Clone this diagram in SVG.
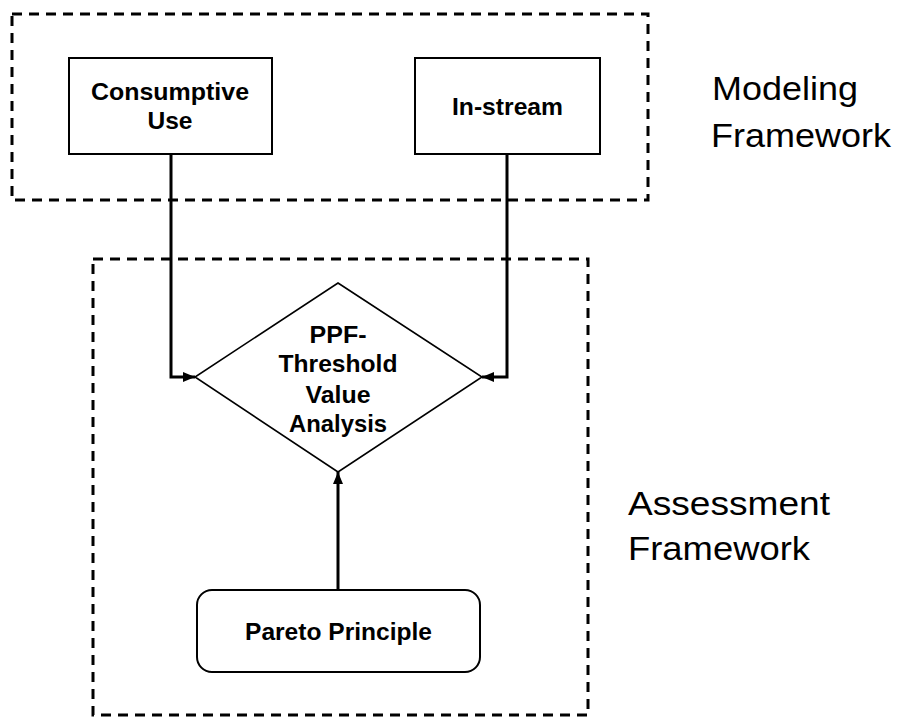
<svg xmlns="http://www.w3.org/2000/svg" width="898" height="720" viewBox="0 0 898 720">
  <style>
    .frame { fill: none; stroke: #000; stroke-width: 3; stroke-dasharray: 10 7; }
    .box { fill: #fff; stroke: #000; stroke-width: 2; }
    .diamond { fill: #fff; stroke: #000; stroke-width: 1.6; }
    .link { fill: none; stroke: #000; stroke-width: 3; }
    .lbl { font-family: "Liberation Sans", Arial, sans-serif; font-weight: bold; font-size: 24px; fill: #000; text-anchor: middle; }
    .big { font-family: "Liberation Sans", Arial, sans-serif; font-size: 34px; fill: #000; }
  </style>
  <defs>
    <marker id="arrow" viewBox="0 0 12 10" refX="12" refY="5" markerWidth="12" markerHeight="10" markerUnits="userSpaceOnUse" orient="auto">
      <path d="M0,0 L12,5 L0,10 Z" fill="#000"/>
    </marker>
  </defs>

  <rect width="898" height="720" fill="#fff"/>

  <!-- framework outlines -->
  <g id="modeling-framework">
    <rect class="frame" x="12" y="14" width="636" height="186"/>
    <text class="big" x="712" y="100" textLength="146" lengthAdjust="spacingAndGlyphs">Modeling</text>
    <text class="big" x="711" y="147" textLength="180" lengthAdjust="spacingAndGlyphs">Framework</text>
  </g>
  <g id="assessment-framework">
    <rect class="frame" x="93" y="259" width="495" height="456"/>
    <text class="big" x="628" y="515" textLength="202" lengthAdjust="spacingAndGlyphs">Assessment</text>
    <text class="big" x="628" y="560" textLength="182" lengthAdjust="spacingAndGlyphs">Framework</text>
  </g>

  <!-- connectors -->
  <g id="connectors">
    <polyline class="link" points="171,154 171,377 195,377" marker-end="url(#arrow)"/>
    <polyline class="link" points="507,154 507,377 482,377" marker-end="url(#arrow)"/>
    <line class="link" x1="338" y1="590" x2="338" y2="472" marker-end="url(#arrow)"/>
  </g>

  <!-- nodes -->
  <g id="consumptive-use">
    <rect class="box" x="69" y="58" width="203" height="96"/>
    <text class="lbl" x="170" y="100" textLength="158" lengthAdjust="spacingAndGlyphs">Consumptive</text>
    <text class="lbl" x="170" y="129" textLength="45" lengthAdjust="spacingAndGlyphs">Use</text>
  </g>
  <g id="in-stream">
    <rect class="box" x="415" y="58" width="185" height="96"/>
    <text class="lbl" x="507.5" y="115" textLength="111" lengthAdjust="spacingAndGlyphs">In-stream</text>
  </g>
  <g id="ppf-threshold">
    <polygon class="diamond" points="338,283 482,377 338,472 195,377"/>
    <text class="lbl" x="338" y="343" textLength="57" lengthAdjust="spacingAndGlyphs">PPF-</text>
    <text class="lbl" x="338" y="372" textLength="119" lengthAdjust="spacingAndGlyphs">Threshold</text>
    <text class="lbl" x="338" y="403" textLength="65" lengthAdjust="spacingAndGlyphs">Value</text>
    <text class="lbl" x="338" y="432" textLength="98" lengthAdjust="spacingAndGlyphs">Analysis</text>
  </g>
  <g id="pareto-principle">
    <rect class="box" x="197" y="590" width="283" height="82" rx="15" ry="15"/>
    <text class="lbl" x="338.5" y="640" textLength="187" lengthAdjust="spacingAndGlyphs">Pareto Principle</text>
  </g>
</svg>
